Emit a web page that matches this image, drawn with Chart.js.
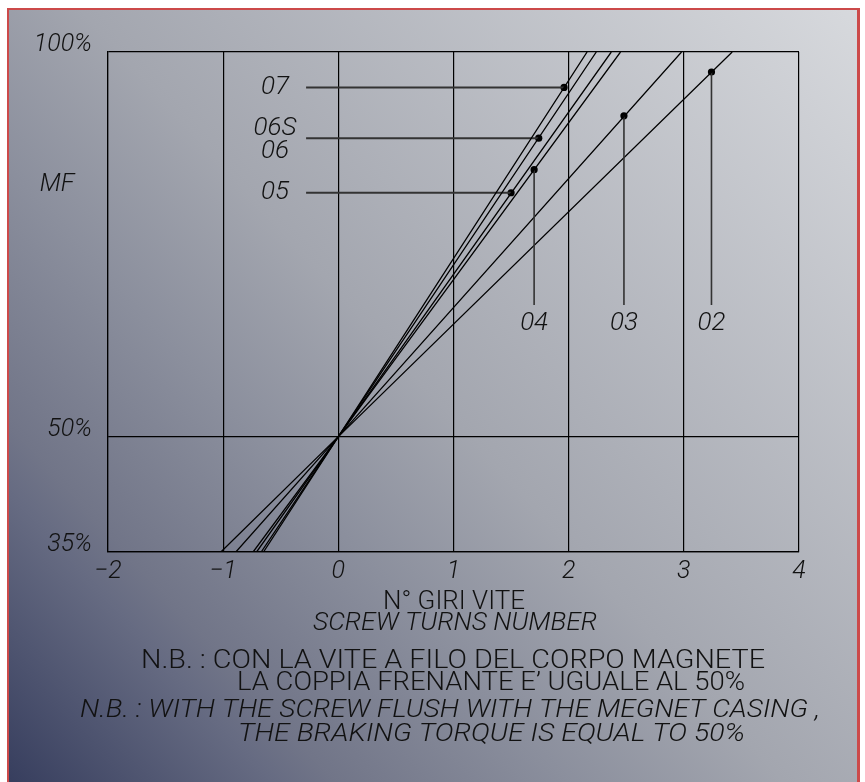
<!DOCTYPE html>
<html>
<head>
<meta charset="utf-8">
<script src="https://cdn.jsdelivr.net/npm/chart.js@4.4.0/dist/chart.umd.min.js"></script>
<style>
  html, body { margin: 0; padding: 0; background: #fff; }
</style>
</head>
<body>
<canvas id="chart" width="865" height="782"></canvas>
<script>
// magnet types, one straight line each (all pass through 0 turns / 50%)
const seriesNames = ['07', '06', '05', '04', '03', '02'];
const xAt35 = [-0.65, -0.67, -0.71, -0.74, -0.89, -1.02];
const xAt100 = [2.16, 2.24, 2.37, 2.45, 2.98, 3.42];
const pivot = { x: 0, y: 50 };

// reference dots and their leader lines
const markerX = [1.96, 1.74, 1.50, 1.70, 2.48, 3.24];
const markerY = [95.4, 88.8, 81.7, 84.7, 91.7, 97.4];
const leaderKind = ['h', 'h', 'h', 'v', 'v', 'v'];
const leaderStartX = -0.28;
const leaderBottomY = 67.1;

const xTicks = [-2, -1, 0, 1, 2, 3, 4];
const yTicks = [35, 50, 100];

const FONT = 'Roboto, "Liberation Sans", sans-serif';

const datasets = [];
seriesNames.forEach((name, i) => {
    datasets.push({
        label: name,
        data: [{ x: xAt35[i], y: 35 }, pivot, { x: xAt100[i], y: 100 }],
        showLine: true,
        borderColor: '#000',
        borderWidth: 1.3,
        pointRadius: 0,
    });
    const leader = leaderKind[i] === 'h'
        ? [{ x: leaderStartX, y: markerY[i] }, { x: markerX[i], y: markerY[i] }]
        : [{ x: markerX[i], y: markerY[i] }, { x: markerX[i], y: leaderBottomY }];
    datasets.push({
        label: name + ' leader',
        data: leader,
        showLine: true,
        borderColor: '#333',
        borderWidth: leaderKind[i] === 'h' ? 2 : 1.6,
        pointRadius: 0,
    });
});
datasets.push({
    label: 'dots',
    data: markerX.map((x, i) => ({ x, y: markerY[i] })),
    pointRadius: 3.6,
    pointBackgroundColor: '#000',
    pointBorderWidth: 0,
});

const background = {
    id: 'background',
    beforeDraw(chart) {
        const c = chart.ctx;
        c.save();
        c.fillStyle = '#fff';
        c.fillRect(0, 0, chart.width, chart.height);
        c.fillStyle = '#cc4a4a';
        c.fillRect(7, 8, 853, 774);
        const g = c.createLinearGradient(9, 782, 857, 10);
        g.addColorStop(0, '#373e5e');
        g.addColorStop(0.17, '#666b82');
        g.addColorStop(0.21, '#717588');
        g.addColorStop(0.36, '#8b8f9d');
        g.addColorStop(0.5, '#a3a6af');
        g.addColorStop(1, '#d7d9dd');
        c.fillStyle = g;
        c.fillRect(9, 10, 848, 772);
        c.restore();
    }
};

function fitText(c, text, left, right, y) {
    const w = c.measureText(text).width;
    c.save();
    c.translate(left, y);
    c.scale((right - left) / w, 1);
    c.fillText(text, 0, 0);
    c.restore();
}

const annotations = {
    id: 'annotations',
    afterDraw(chart) {
        const c = chart.ctx;
        const xs = chart.scales.x, ys = chart.scales.y;
        c.save();
        c.fillStyle = '#111';
        c.textBaseline = 'middle';
        c.textAlign = 'center';
        c.font = 'italic 300 26px ' + FONT;
        seriesNames.forEach((name, i) => {
            if (leaderKind[i] === 'h') {
                const px = xs.getPixelForValue(leaderStartX) - 31;
                const py = ys.getPixelForValue(markerY[i]);
                if (name === '06') {
                    c.fillText('06S', px, py - 10);
                    c.fillText('06', px, py + 13);
                } else {
                    c.fillText(name, px, py);
                }
            } else {
                c.fillText(name, xs.getPixelForValue(markerX[i]), ys.getPixelForValue(leaderBottomY) + 18);
            }
        });

        // axis title on the left
        c.font = 'italic 300 25px ' + FONT;
        c.fillText('MF', 57, ys.getPixelForValue(82.7));

        // notes under the chart
        c.textAlign = 'left';
        const notes = [
            ['N° GIRI VITE', false, 383, 525, 603],
            ['SCREW TURNS NUMBER', true, 313, 597, 624],
            ['N.B. : CON LA VITE A FILO DEL CORPO MAGNETE', false, 141, 765, 662],
            ['LA COPPIA FRENANTE E\u2019 UGUALE AL 50%', false, 237, 745, 684],
            ['N.B. : WITH THE SCREW FLUSH WITH THE MEGNET CASING ,', true, 80, 820, 711],
            ['THE BRAKING TORQUE IS EQUAL TO 50%', true, 238, 745, 735],
        ];
        notes.forEach(([t, it, l, r, y]) => {
            c.font = (it ? 'italic ' : '') + '300 25px ' + FONT;
            fitText(c, t, l, r, y);
        });
        c.restore();
    }
};

const tickFont = { family: FONT, style: 'italic', weight: 300, size: 25 };

new Chart(document.getElementById('chart').getContext('2d'), {
    type: 'scatter',
    data: { datasets },
    options: {
        responsive: false,
        animation: false,
        layout: { padding: { top: 52, right: 66, left: 0, bottom: 0 } },
        plugins: { legend: { display: false }, tooltip: { enabled: false } },
        scales: {
            x: {
                type: 'linear',
                min: -2,
                max: 4,
                afterBuildTicks: s => { s.ticks = xTicks.map(v => ({ value: v })); },
                afterFit: s => { s.height = 230; },
                grid: { color: '#000', lineWidth: 1.2, drawTicks: false },
                border: { color: '#000', width: 1.2 },
                ticks: {
                    padding: 5,
                    color: '#111',
                    font: tickFont,
                    callback: v => String(v).replace('-', '\u2212'),
                },
            },
            y: {
                type: 'linear',
                min: 35,
                max: 100,
                afterBuildTicks: s => { s.ticks = yTicks.map(v => ({ value: v })); },
                afterFit: s => { s.width = 108; },
                grid: { color: '#000', lineWidth: 1.2, drawTicks: false },
                border: { color: '#000', width: 1.2 },
                ticks: {
                    padding: 16,
                    labelOffset: -7,
                    color: '#111',
                    font: tickFont,
                    callback: v => v + '%',
                },
            },
        },
    },
    plugins: [background, annotations],
});
</script>
</body>
</html>
